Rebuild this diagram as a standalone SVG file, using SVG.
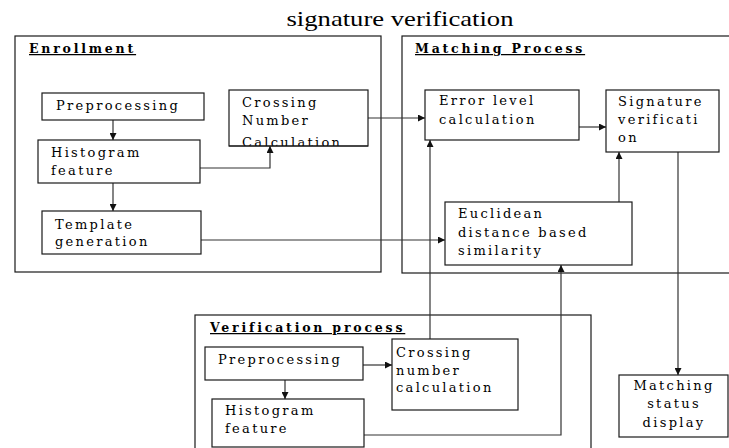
<svg xmlns="http://www.w3.org/2000/svg" width="729" height="448" viewBox="0 0 729 448">
<style>
  .bg { fill: #ffffff; }
  .box { fill: #ffffff; stroke: #1a1a1a; stroke-width: 1.2; }
  .group { fill: none; stroke: #1a1a1a; stroke-width: 1.2; }
  .t { font-family: "DejaVu Serif", "Liberation Serif", serif; font-size: 13px; letter-spacing: 2.3px; fill: #000; }
  .h { font-family: "DejaVu Serif", "Liberation Serif", serif; font-size: 12.5px; font-weight: bold; letter-spacing: 2.8px; fill: #000; text-decoration: underline; }
  .title { font-family: "Liberation Serif", "Times New Roman", serif; font-size: 22px; fill: #000; }
  .c { fill: none; stroke: #333; stroke-width: 1.2; }
</style>
<defs>
  <marker id="arr" viewBox="0 0 10 10" refX="10" refY="5" markerWidth="7" markerHeight="7" markerUnits="userSpaceOnUse" orient="auto">
    <path d="M0,0 L10,5 L0,10 z" fill="#111"/>
  </marker>
  <clipPath id="clipCross"><rect x="229" y="90" width="139" height="56"/></clipPath>
</defs>
<rect class="bg" x="0" y="0" width="729" height="448"/>

<text class="title" x="400" y="26" text-anchor="middle" textLength="227" lengthAdjust="spacingAndGlyphs">signature verification</text>

<g id="enrollment">
  <rect class="group" x="15" y="36" width="366" height="236"/>
  <text class="h" x="29" y="53">Enrollment</text>
</g>
<g id="matching">
  <rect class="group" x="402" y="36" width="340" height="237"/>
  <text class="h" x="415" y="53">Matching Process</text>
</g>
<g id="verification">
  <rect class="group" x="195" y="315" width="396" height="145"/>
  <text class="h" x="210" y="332">Verification process</text>
</g>

<g id="connectors">
  <line class="c" x1="113" y1="120" x2="113" y2="140" marker-end="url(#arr)"/>
  <line class="c" x1="113" y1="183" x2="113" y2="211" marker-end="url(#arr)"/>
  <polyline class="c" points="200,168 270,168 270,146" marker-end="url(#arr)"/>
  <line class="c" x1="368" y1="118" x2="425" y2="118" marker-end="url(#arr)"/>
  <line class="c" x1="201" y1="240" x2="445" y2="240" marker-end="url(#arr)"/>
  <line class="c" x1="579" y1="127" x2="606" y2="127" marker-end="url(#arr)"/>
  <line class="c" x1="619" y1="202" x2="619" y2="152" marker-end="url(#arr)"/>
  <line class="c" x1="430" y1="339" x2="430" y2="140" marker-end="url(#arr)"/>
  <polyline class="c" points="364,435 561,435 561,265" marker-end="url(#arr)"/>
  <line class="c" x1="678" y1="152" x2="678" y2="375" marker-end="url(#arr)"/>
  <line class="c" x1="285" y1="380" x2="285" y2="399" marker-end="url(#arr)"/>
  <line class="c" x1="363" y1="365" x2="392" y2="365" marker-end="url(#arr)"/>
</g>

<g id="enroll-preprocessing">
  <rect class="box" x="42" y="93" width="162" height="27"/>
  <text class="t" x="56" y="110">Preprocessing</text>
</g>
<g id="enroll-histogram">
  <rect class="box" x="38" y="140" width="162" height="43"/>
  <text class="t" x="51" y="157">Histogram</text>
  <text class="t" x="51" y="175">feature</text>
</g>
<g id="enroll-template">
  <rect class="box" x="42" y="211" width="159" height="43"/>
  <text class="t" x="55" y="229">Template</text>
  <text class="t" x="55" y="246">generation</text>
</g>
<g id="enroll-crossing">
  <rect class="box" x="229" y="90" width="139" height="56"/>
  <g clip-path="url(#clipCross)">
    <text class="t" x="242" y="107">Crossing</text>
    <text class="t" x="242" y="125">Number</text>
    <text class="t" x="242" y="147">Calculation</text>
  </g>
  <line x1="229" y1="146" x2="368" y2="146" stroke="#1a1a1a" stroke-width="1.2"/>
</g>

<g id="error-level">
  <rect class="box" x="425" y="90" width="154" height="50"/>
  <text class="t" x="439" y="105">Error level</text>
  <text class="t" x="439" y="124">calculation</text>
</g>
<g id="signature-verification">
  <rect class="box" x="606" y="90" width="113" height="62"/>
  <text class="t" x="618" y="106">Signature</text>
  <text class="t" x="618" y="124">verificati</text>
  <text class="t" x="618" y="142">on</text>
</g>
<g id="euclidean">
  <rect class="box" x="445" y="202" width="187" height="63"/>
  <text class="t" x="458" y="218">Euclidean</text>
  <text class="t" x="458" y="237">distance based</text>
  <text class="t" x="458" y="255">similarity</text>
</g>

<g id="verif-preprocessing">
  <rect class="box" x="205" y="347" width="158" height="33"/>
  <text class="t" x="218" y="364">Preprocessing</text>
</g>
<g id="verif-crossing">
  <rect class="box" x="392" y="339" width="126" height="71"/>
  <text class="t" x="396" y="357">Crossing</text>
  <text class="t" x="396" y="375">number</text>
  <text class="t" x="396" y="392">calculation</text>
</g>
<g id="verif-histogram">
  <rect class="box" x="212" y="399" width="152" height="48"/>
  <text class="t" x="225" y="415">Histogram</text>
  <text class="t" x="225" y="433">feature</text>
</g>
<g id="matching-status">
  <rect class="box" x="619" y="375" width="109" height="62"/>
  <text class="t" x="674" y="390" text-anchor="middle">Matching</text>
  <text class="t" x="674" y="408" text-anchor="middle">status</text>
  <text class="t" x="674" y="427" text-anchor="middle">display</text>
</g>
</svg>
